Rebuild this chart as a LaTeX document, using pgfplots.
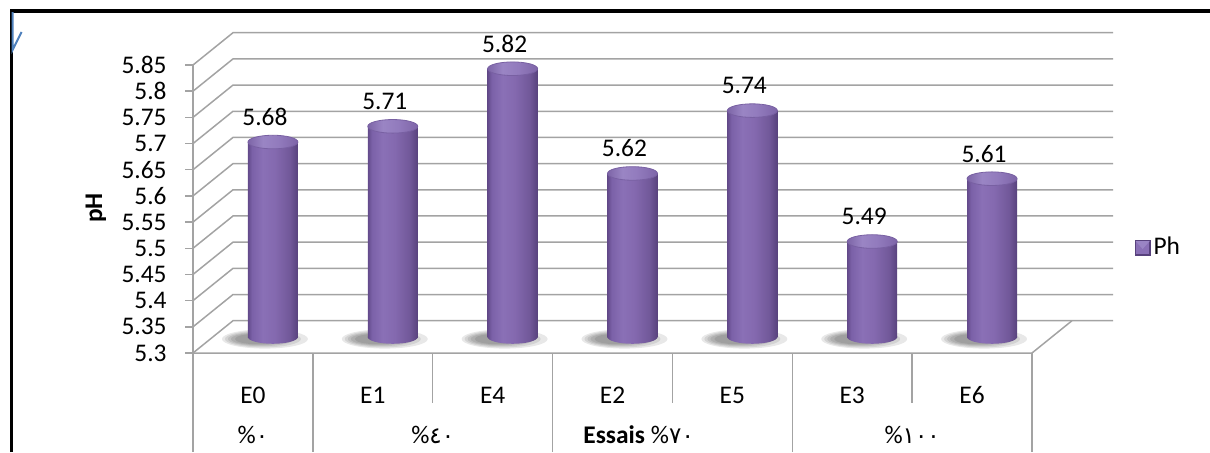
\documentclass[border=0pt]{standalone}
\usepackage{fontspec}
\setmainfont{Carlito}
\newfontfamily\digitfont{DejaVu Sans}
\usepackage{pgfplots}
\usepackage{pgfplotstable}
\pgfplotsset{compat=1.18}

\definecolor{gridc}{HTML}{A3A3A3}
\definecolor{cylA}{HTML}{634A8A}
\definecolor{cylB}{HTML}{7B61A8}
\definecolor{cylC}{HTML}{8A70B6}
\definecolor{cylD}{HTML}{8469AF}
\definecolor{cylE}{HTML}{715899}
\definecolor{cylF}{HTML}{58427D}
\definecolor{topA}{HTML}{7D65A7}
\definecolor{topB}{HTML}{9A85C4}
\definecolor{topC}{HTML}{927BBD}
\definecolor{topD}{HTML}{7E65A8}
\definecolor{cylrim}{HTML}{7860A2}
\definecolor{markblue}{HTML}{4F81BD}

\newcommand\tickfont{\fontsize{12.7}{15}\selectfont}

% side-lit body of a cylinder and its lighter lid
\pgfdeclarehorizontalshading{cylbody}{100bp}{color(0bp)=(cylA); color(25bp)=(cylA);
  color(29bp)=(cylB); color(40bp)=(cylC); color(52bp)=(cylD); color(67bp)=(cylE);
  color(75bp)=(cylF); color(100bp)=(cylF)}
\pgfdeclarehorizontalshading{cyltop}{100bp}{color(0bp)=(topA); color(25bp)=(topA);
  color(40bp)=(topB); color(55bp)=(topC); color(75bp)=(topD); color(100bp)=(topD)}

% pH values
\pgfplotstableread{
idx name val
0 E0 5.68
1 E1 5.71
2 E4 5.82
3 E2 5.62
4 E5 5.74
5 E3 5.49
6 E6 5.61
}\phdata

% foot of a cylinder with its soft shadow on the floor, cast to the left
\pgfdeclareplotmark{cylfoot}{%
  \pgfscope
    \pgfsetfillcolor{black}\pgfsetfillopacity{0.09}%
    \pgfpathellipse{\pgfqpoint{-4pt}{-1pt}}{\pgfqpoint{21.5pt}{0pt}}{\pgfqpoint{0pt}{4.8pt}}\pgfusepath{fill}%
    \pgfpathellipse{\pgfqpoint{-5pt}{-1pt}}{\pgfqpoint{19pt}{0pt}}{\pgfqpoint{0pt}{4.2pt}}\pgfusepath{fill}%
    \pgfpathellipse{\pgfqpoint{-6pt}{-1pt}}{\pgfqpoint{16.5pt}{0pt}}{\pgfqpoint{0pt}{3.6pt}}\pgfusepath{fill}%
    \pgfpathellipse{\pgfqpoint{-7pt}{-1pt}}{\pgfqpoint{14pt}{0pt}}{\pgfqpoint{0pt}{3.1pt}}\pgfusepath{fill}%
    \pgfpathellipse{\pgfqpoint{-8pt}{-1pt}}{\pgfqpoint{11pt}{0pt}}{\pgfqpoint{0pt}{2.6pt}}\pgfusepath{fill}%
  \endpgfscope
  \pgfpathellipse{\pgfpointorigin}{\pgfqpoint{12.5pt}{0pt}}{\pgfqpoint{0pt}{3.4pt}}%
  \pgfshadepath{cylbody}{0}\pgfusepath{}%
}
% lid of a cylinder
\pgfdeclareplotmark{cyllid}{%
  \pgfpathellipse{\pgfpointorigin}{\pgfqpoint{12.5pt}{0pt}}{\pgfqpoint{0pt}{3.4pt}}%
  \pgfshadepath{cyltop}{0}%
  \pgfsetstrokecolor{cylrim}\pgfsetlinewidth{0.4pt}\pgfusepath{stroke}%
}

% the stacked layers share this frame
\pgfplotsset{phframe/.style={
  at={(96.5pt,49.5pt)}, anchor=south west,
  scale only axis, width=419.5pt, height=144pt,
  xmin=-0.5, xmax=6.5, ymin=5.3, ymax=5.85,
  clip=false,
  /pgf/number format/assume math mode=true,
}}

\begin{document}
\begin{tikzpicture}
\useasboundingbox (0,0) rectangle (605pt,226pt);
% ---- walls, floor, axes, feet of the cylinders
\begin{axis}[phframe,
  axis x line*=bottom, axis y line*=left,
  x axis line style={draw=none},
  y axis line style={gridc, line width=0.75pt},
  xtick={0,...,6}, xticklabels={E0,E1,E4,E2,E5,E3,E6},
  x tick style={draw=none},
  xticklabel style={anchor=base, yshift=-21pt, font=\tickfont},
  ytick={5.3,5.35,5.4,5.45,5.5,5.55,5.6,5.65,5.7,5.75,5.8,5.85},
  yticklabel={\pgfmathprintnumber[fixed,precision=2]{\tick}},
  y tick style={gridc, line width=0.75pt},
  tick align=outside, major tick length=4pt,
  yticklabel style={anchor=east, inner sep=0pt, xshift=-9pt, font=\tickfont},
  legend style={at={(1.122,0.366)}, anchor=west, draw=none, fill=none,
    inner sep=0pt, font=\tickfont, nodes={inner sep=1.5pt}},
]
% side wall and back wall grid
\pgfplotsinvokeforeach{5.3,5.35,5.4,5.45,5.5,5.55,5.6,5.65,5.7,5.75,5.8,5.85}{
  \draw[gridc, line width=0.75pt] (axis cs:-0.5,#1) -- ++(20pt,16.15pt) -- ++(440pt,0pt);
}
% floor edges
\draw[gridc, line width=0.75pt] (axis cs:-0.5,5.3) -- (axis cs:6.5,5.3) -- ++(20pt,16.15pt);
% category table below the floor
\pgfplotsinvokeforeach{-0.5,0.5,2.5,4.5,6.5}{
  \draw[gridc, line width=0.75pt] (axis cs:#1,5.3) -- ++(0pt,-49.5pt);
}
\pgfplotsinvokeforeach{1.5,3.5,5.5}{
  \draw[gridc, line width=0.75pt] (axis cs:#1,5.3) -- ++(0pt,-25pt);
}
\addlegendimage{legend image code/.code={
    \fill[cylF] (0pt,-3.75pt) rectangle (7.5pt,3.75pt);
    \fill[cylC] (0.7pt,-3.05pt) rectangle (6.8pt,3.05pt);
    \fill[topB] (0.7pt,3.05pt) -- (6.8pt,3.05pt) -- (3.75pt,-0.4pt) -- cycle;
  }}
\addlegendentry{Ph}
\addplot[only marks, mark=cylfoot, forget plot]
  table[x expr=\thisrow{idx}+0.1668, y expr=5.3306]{\phdata};

% group labels
\node[anchor=base, font=\tickfont] at ([yshift=-45pt]axis cs:0,5.3) {\%{\digitfont\fontsize{11.5}{13}\selectfont ٠}};
\node[anchor=base, font=\tickfont] at ([yshift=-45pt]axis cs:1.5,5.3) {\%{\digitfont\fontsize{11.5}{13}\selectfont ٤٠}};
\node[anchor=base, font=\tickfont] at ([yshift=-45pt]axis cs:3.5,5.3) {\%{\digitfont\fontsize{11.5}{13}\selectfont ٧٠}};
\node[anchor=base, font=\tickfont] at ([yshift=-45pt]axis cs:5.5,5.3) {\%{\digitfont\fontsize{11.5}{13}\selectfont ١٠٠}};
\node[anchor=base east, font=\tickfont\bfseries, inner sep=0pt] at ([xshift=-13.5pt,yshift=-45pt]axis cs:3.5,5.3) {Essais};
\end{axis}

% ---- bodies of the cylinders; this layer's floor is where the cylinders stand
\begin{axis}[phframe, at={(96.5pt,57.5pt)}, height=136pt, ymin=5.33056,
  hide axis, clip=true, ybar, bar width=25pt, bar shift=0pt]
\pgfplotsinvokeforeach{0,1,2,3,4,5,6}{
  \addplot[draw=none, shading=cylbody, restrict x to domain=#1.0:#1.5]
    table[x expr=\thisrow{idx}+0.1668, y expr=\thisrow{val}+0.0229]{\phdata};
}
\end{axis}

% ---- lids and value labels
\begin{axis}[phframe, hide axis]
\addplot[only marks, mark=cyllid]
  table[x expr=\thisrow{idx}+0.1668, y expr=\thisrow{val}+0.0229]{\phdata};
\addplot[draw=none, point meta=\thisrow{val},
  nodes near coords={\pgfmathprintnumber[fixed,precision=2]{\pgfplotspointmeta}},
  every node near coord/.append style={anchor=center, yshift=18.5pt, font=\tickfont}]
  table[x expr=\thisrow{idx}+0.1, y=val]{\phdata};
\end{axis}

% y axis title
\node[rotate=90, font=\tickfont\bfseries] at (48pt,122pt) {pH};
% frame
\draw[line width=1.8pt] (5.65pt,0pt) -- (5.65pt,220.5pt) -- (605pt,220.5pt);
\draw[markblue, line width=1pt] (6.3pt,220pt) -- (6.3pt,201pt) -- (10.8pt,210pt);
\end{tikzpicture}
\end{document}
